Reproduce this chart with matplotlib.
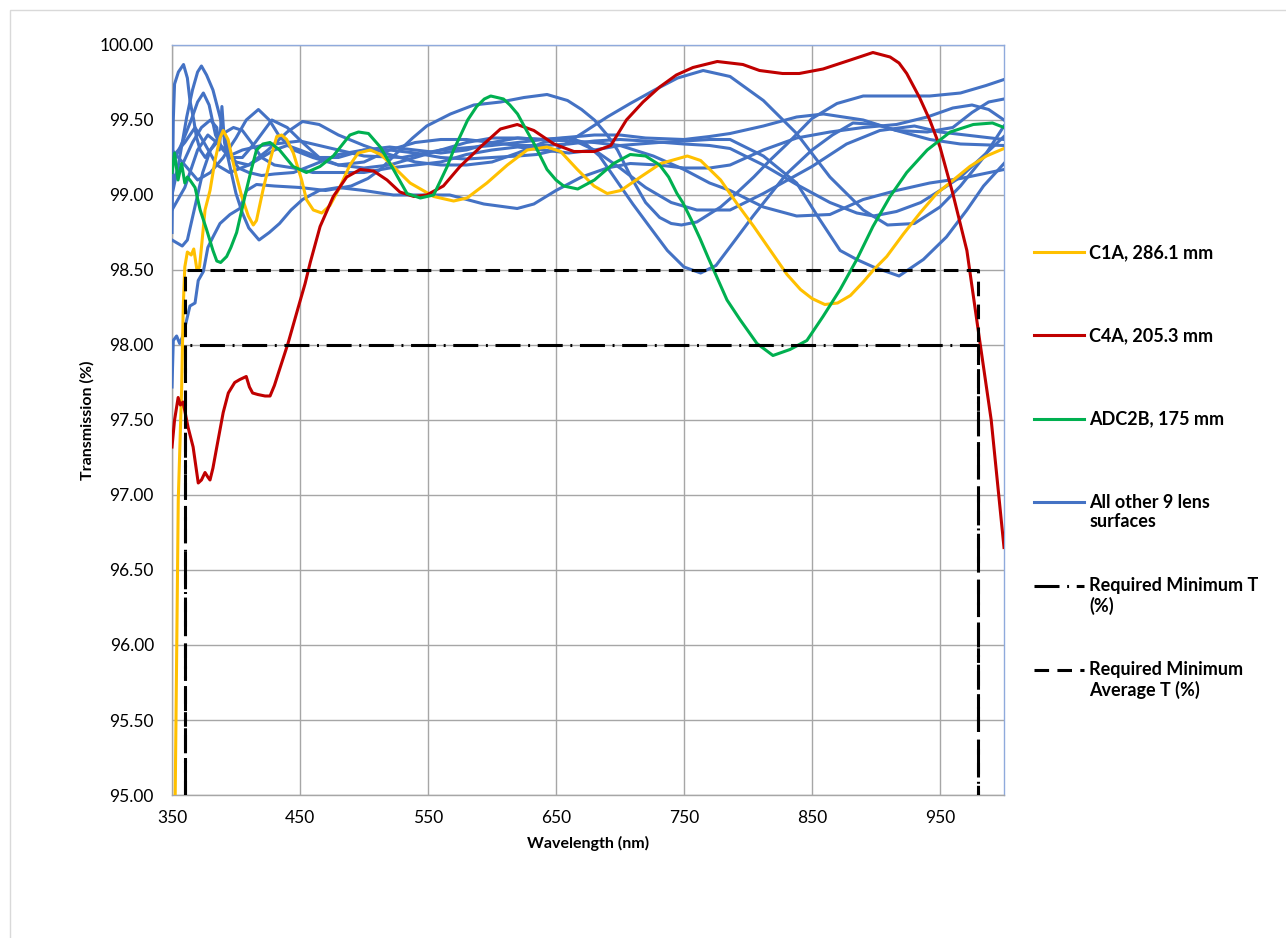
import matplotlib
matplotlib.use('Agg')
import matplotlib.pyplot as plt
from matplotlib.legend_handler import HandlerLine2D
from matplotlib.patches import Rectangle
import numpy as np

plt.rcParams['font.family'] = ['Lato', 'DejaVu Sans']
plt.rcParams['lines.scale_dashes'] = False

# ---------------- data ----------------
c1a_wl = [352.5, 354.9, 357.5, 358.8, 360, 362, 365, 367, 369.5, 371.5, 373, 375.8, 379.7, 383.6, 387.5, 390,
          393.8, 399, 404.5, 409.6, 413.5, 416, 421, 426.6, 431.8, 435.7, 439.6, 444.8, 451.3, 455, 460.4, 467,
          473.4, 481, 489, 495.5, 505, 513, 520.5, 536, 554.4, 570, 580.5, 596, 612, 627.5, 643, 653.6, 666.7,
          679.7, 690, 700.6, 716, 731.8, 752.6, 763, 778.6, 791.6, 804.5, 817.5, 830.5, 841, 850, 860, 870, 880,
          890, 898, 908.4, 921.4, 934.4, 947.4, 960.4, 973.3, 986.3, 1000]
c1a_t = [95.0, 96.97, 97.7, 98.26, 98.52, 98.62, 98.6, 98.64, 98.5, 98.52, 98.65, 98.9, 99.03, 99.23, 99.38, 99.43,
         99.37, 99.17, 98.99, 98.86, 98.8, 98.83, 99.03, 99.23, 99.39, 99.4, 99.37, 99.28, 99.1, 98.97, 98.9, 98.88,
         98.93, 99.05, 99.2, 99.28, 99.3, 99.27, 99.21, 99.08, 98.99, 98.96, 98.98, 99.08, 99.2, 99.3, 99.32, 99.29,
         99.17, 99.06, 99.01, 99.03, 99.12, 99.21, 99.26, 99.23, 99.1, 98.94, 98.79, 98.63, 98.47, 98.37, 98.31,
         98.27, 98.28, 98.33, 98.42, 98.5, 98.59, 98.74, 98.88, 99.01, 99.1, 99.19, 99.26, 99.31]

c4a_wl = [350, 352, 354.8, 356.5, 358.6, 362.6, 366.5, 368.5, 370.5, 373, 375.8, 378, 379.7, 382, 385, 390, 394, 399,
          403, 408, 410.5, 413, 417, 422.7, 426.6, 430, 433, 440.6, 448.6, 454, 458, 465.7, 476, 486.5, 497, 507.5,
          518, 528, 539, 549, 562, 575, 591, 606.6, 619.7, 632.7, 648.4, 664, 680, 692.8, 705, 718, 731, 744, 757,
          776, 796, 809, 827, 840, 858.6, 880, 897.6, 911, 918, 924, 934, 942, 950, 960, 971, 981, 990, 1000]
c4a_t = [97.32, 97.5, 97.65, 97.6, 97.62, 97.45, 97.32, 97.2, 97.08, 97.1, 97.15, 97.12, 97.1, 97.18, 97.32, 97.55,
         97.68, 97.75, 97.77, 97.79, 97.72, 97.68, 97.67, 97.66, 97.66, 97.73, 97.81, 98.01, 98.25, 98.41, 98.55,
         98.79, 98.99, 99.12, 99.17, 99.16, 99.1, 99.02, 98.99, 99.0, 99.06, 99.19, 99.32, 99.44, 99.47, 99.43,
         99.34, 99.29, 99.29, 99.33, 99.5, 99.62, 99.72, 99.8, 99.85, 99.89, 99.87, 99.83, 99.81, 99.81, 99.84,
         99.9, 99.95, 99.92, 99.88, 99.81, 99.65, 99.5, 99.32, 99.01, 98.63, 98.03, 97.5, 96.65]

adc2b_wl = [350, 352, 354.7, 357.5, 360, 362, 364, 368, 372, 377, 382, 385, 388, 392.7, 396, 400.5, 404, 408, 412,
            416, 421, 426.6, 434, 444.6, 455, 465.6, 476, 489, 495.7, 503.5, 512.7, 523, 533.6, 544, 554.4, 560, 565,
            570, 575, 581, 588, 594, 599, 609, 614, 620, 627, 633, 643, 650, 656, 667, 680, 695, 708, 720, 731, 738,
            744.5, 749, 756, 762.5, 769, 775.8, 783.6, 793.7, 807, 819.5, 832.8, 846, 858.6, 872, 885, 897.6, 911,
            924, 940, 958, 976, 991, 1000]
adc2b_t = [99.15, 99.28, 99.1, 99.21, 99.08, 99.12, 99.1, 99.05, 98.9, 98.77, 98.63, 98.56, 98.55, 98.59, 98.65,
           98.75, 98.88, 99.03, 99.17, 99.3, 99.34, 99.35, 99.3, 99.19, 99.15, 99.19, 99.26, 99.4, 99.42, 99.41,
           99.32, 99.17, 99.01, 98.98, 99.0, 99.1, 99.19, 99.3, 99.39, 99.5, 99.59, 99.64, 99.66, 99.64, 99.6, 99.54,
           99.43, 99.34, 99.17, 99.1, 99.06, 99.04, 99.1, 99.21, 99.27, 99.26, 99.2, 99.12, 99.01, 98.95, 98.83,
           98.71, 98.58, 98.45, 98.3, 98.17, 98.01, 97.93, 97.97, 98.03, 98.19, 98.37, 98.57, 98.79, 98.99, 99.15,
           99.3, 99.42, 99.47, 99.48, 99.45]

blue1_wl = [350, 351, 352, 355, 359, 362, 364, 367, 369, 372, 376, 380, 385, 392, 400, 410, 420, 430, 440, 450, 465,
            480, 500, 520, 540, 560, 580, 600, 620, 640, 660, 672, 684, 697, 710, 723, 737, 750, 763, 775, 790, 804,
            817, 830, 850, 866, 882, 900, 916, 940, 960, 975, 988, 1000]
blue1_t = [98.75, 99.5, 99.74, 99.82, 99.87, 99.78, 99.63, 99.5, 99.39, 99.3, 99.25, 99.3, 99.35, 99.3, 99.22, 99.2,
           99.25, 99.3, 99.33, 99.3, 99.25, 99.25, 99.3, 99.32, 99.3, 99.28, 99.3, 99.35, 99.38, 99.37, 99.38, 99.35,
           99.26, 99.1, 98.94, 98.79, 98.63, 98.52, 98.48, 98.53, 98.7, 98.86, 99.0, 99.14, 99.3, 99.4, 99.48, 99.47,
           99.43, 99.42, 99.45, 99.55, 99.62, 99.64]

blue2_wl = [350, 351, 353.6, 356, 358, 361, 364, 368, 370.5, 374.5, 378, 382, 387.5, 395.3, 403, 408.3, 416, 430,
            450, 470, 490, 503, 512.7, 528, 538, 549, 567.5, 585.8, 606.7, 625, 643, 659, 670, 680, 690, 698, 708.6,
            720, 731, 740, 748, 760, 778.6, 792, 804.5, 817, 830.5, 850, 869.5, 890, 942, 966, 986, 1000]
blue2_t = [97.72, 98.03, 98.06, 98.01, 98.05, 98.15, 98.26, 98.28, 98.43, 98.49, 98.65, 98.72, 98.81, 98.87, 98.91,
           99.03, 99.07, 99.06, 99.05, 99.03, 99.06, 99.11, 99.17, 99.3, 99.38, 99.46, 99.54, 99.6, 99.62, 99.65,
           99.67, 99.63, 99.57, 99.5, 99.4, 99.3, 99.12, 98.95, 98.85, 98.81, 98.8, 98.82, 98.92, 99.02, 99.12, 99.23,
           99.34, 99.51, 99.61, 99.66, 99.66, 99.68, 99.73, 99.77]

blue3_wl = [350, 355, 361.5, 366, 370, 373, 377, 382, 387.5, 391, 396, 402, 410, 420, 430, 445, 460, 480, 500, 520,
            540, 560, 580, 600, 620, 635, 650, 672, 690, 708, 727, 745, 765, 786, 812, 838, 864, 890, 909, 930, 950,
            966, 984, 1000]
blue3_t = [99.0, 99.2, 99.52, 99.7, 99.82, 99.86, 99.8, 99.7, 99.52, 99.39, 99.25, 99.18, 99.15, 99.13, 99.14, 99.15,
           99.2, 99.27, 99.3, 99.3, 99.28, 99.25, 99.24, 99.25, 99.26, 99.27, 99.3, 99.42, 99.52, 99.61, 99.7, 99.78,
           99.83, 99.79, 99.63, 99.41, 99.12, 98.9, 98.8, 98.81, 98.92, 99.06, 99.25, 99.46]

blue4_wl = [350, 354, 358, 362, 366, 370, 374, 380, 386, 392, 398, 405, 412, 420, 430, 445, 460, 480, 500, 520, 540,
            560, 580, 600, 620, 640, 660, 680, 700, 730, 750, 770, 786, 812, 838, 855, 872, 885, 898, 918, 937, 955,
            971, 984, 1000]
blue4_t = [98.7, 98.68, 98.66, 98.7, 98.85, 99.0, 99.15, 99.3, 99.38, 99.42, 99.45, 99.43, 99.35, 99.25, 99.2, 99.18,
           99.15, 99.15, 99.15, 99.18, 99.2, 99.22, 99.27, 99.3, 99.32, 99.3, 99.28, 99.3, 99.33, 99.35, 99.36, 99.37,
           99.37, 99.26, 99.08, 98.85, 98.63, 98.57, 98.52, 98.46, 98.57, 98.72, 98.9, 99.06, 99.21]

blue5_wl = [350, 358, 365, 370, 374.5, 379, 384, 390, 397, 405, 420, 450, 480, 500, 530, 560, 600, 640, 680, 700,
            720, 750, 770, 786, 812, 838, 859, 890, 916, 942, 966, 1000]
blue5_t = [99.2, 99.35, 99.5, 99.62, 99.68, 99.6, 99.4, 99.3, 99.27, 99.3, 99.33, 99.36, 99.3, 99.26, 99.25, 99.3,
           99.33, 99.37, 99.4, 99.4, 99.38, 99.37, 99.39, 99.41, 99.46, 99.52, 99.54, 99.5, 99.43, 99.37, 99.34, 99.33]

blue6_wl = [350, 360, 370, 380, 390, 400, 408, 417.5, 426, 434, 445, 460, 480, 500, 520, 540, 560, 580, 600, 620,
            640, 660, 680, 700, 726, 750, 770, 786, 812, 838, 864, 890, 916, 942, 966, 1000]
blue6_t = [99.3, 99.2, 99.1, 99.15, 99.25, 99.38, 99.5, 99.57, 99.5, 99.39, 99.3, 99.25, 99.2, 99.18, 99.2, 99.25,
           99.3, 99.35, 99.38, 99.38, 99.37, 99.36, 99.35, 99.33, 99.26, 99.17, 99.08, 99.03, 98.92, 98.86, 98.87,
           98.97, 99.03, 99.08, 99.11, 99.17]

blue7_wl = [350, 360, 370, 378, 385, 395, 405, 415, 428, 440, 452, 465, 480, 500, 520, 540, 560, 580, 600, 620, 640,
            660, 680, 700, 720, 750, 770, 786, 812, 838, 864, 885, 898, 916, 935, 950, 966, 985, 1000]
blue7_t = [98.9, 99.05, 99.3, 99.4, 99.35, 99.25, 99.25, 99.35, 99.5, 99.45, 99.35, 99.25, 99.2, 99.22, 99.3, 99.35,
           99.37, 99.37, 99.35, 99.33, 99.33, 99.34, 99.36, 99.37, 99.36, 99.34, 99.33, 99.31, 99.2, 99.07, 98.95,
           98.88, 98.86, 98.89, 98.95, 99.03, 99.12, 99.27, 99.39]

blue8_wl = [350, 360, 368, 375, 385, 395, 410, 425, 440, 452, 465, 480, 500, 520, 540, 560, 580, 600, 620, 640, 660,
            680, 700, 720, 740, 760, 786, 812, 850, 877, 903, 930, 950, 970, 1000]
blue8_t = [99.25, 99.35, 99.45, 99.35, 99.2, 99.15, 99.2, 99.3, 99.42, 99.49, 99.47, 99.4, 99.33, 99.27, 99.22,
           99.2, 99.2, 99.22, 99.28, 99.35, 99.38, 99.3, 99.18, 99.05, 98.95, 98.9, 98.9, 99.01, 99.19, 99.34, 99.43,
           99.46, 99.42, 99.4, 99.37]

blue9_wl = [350, 358, 366, 373, 380, 385, 387, 389, 391, 395, 400, 405, 410, 418, 426, 434, 443, 452, 465, 480, 500,
            523, 545, 567, 593.6, 619.7, 632.7, 650, 670, 690, 708, 730, 750, 770, 786, 812, 838, 864, 890, 916, 940,
            960, 975, 988, 1000]
blue9_t = [99.1, 99.2, 99.35, 99.45, 99.5, 99.45, 99.3, 99.59, 99.35, 99.2, 99.01, 98.88, 98.78, 98.7, 98.75, 98.81,
           98.9, 98.97, 99.03, 99.05, 99.03, 99.0, 99.0, 99.0, 98.94, 98.91, 98.94, 99.03, 99.12, 99.18, 99.21, 99.2,
           99.18, 99.18, 99.2, 99.3, 99.38, 99.42, 99.45, 99.47, 99.52, 99.58, 99.6, 99.57, 99.5]

req_min_wl = [360, 360, 980, 980]
req_min_t = [95.0, 98.0, 98.0, 95.0]
req_avg_wl = [360, 360, 980, 980]
req_avg_t = [95.0, 98.5, 98.5, 95.0]

x_ticks = [350, 450, 550, 650, 750, 850, 950]
y_ticks = [95.0, 95.5, 96.0, 96.5, 97.0, 97.5, 98.0, 98.5, 99.0, 99.5, 100.0]

labels = ['C1A, 286.1 mm', 'C4A, 205.3 mm', 'ADC2B, 175 mm', 'All other 9 lens\nsurfaces',
          'Required Minimum T\n(%)', 'Required Minimum\nAverage T (%)']

# ---------------- figure ----------------
W, H = 1286, 938
fig = plt.figure(figsize=(W / 100, H / 100), dpi=100)
fig.patch.set_facecolor('white')
fig.add_artist(Rectangle((10 / W, -0.1), 1.2, 1.1 - 10 / H, transform=fig.transFigure,
                         fill=False, edgecolor='#D9D9D9', linewidth=1.0))

ax = fig.add_axes([172 / W, 1 - 795 / H, (1004 - 172) / W, (795 - 45) / H])

LW = 2.2
BLUE = '#4472C4'
blue_series = [(blue1_wl, blue1_t), (blue2_wl, blue2_t), (blue3_wl, blue3_t), (blue4_wl, blue4_t),
               (blue5_wl, blue5_t), (blue6_wl, blue6_t), (blue7_wl, blue7_t), (blue8_wl, blue8_t),
               (blue9_wl, blue9_t)]
blue_lines = []
for bw, bt in blue_series:
    ln, = ax.plot(bw, bt, color=BLUE, lw=LW, solid_joinstyle='round', zorder=3)
    blue_lines.append(ln)

l_c1a, = ax.plot(c1a_wl, c1a_t, color='#FFC000', lw=LW, solid_joinstyle='round', zorder=4)
l_c4a, = ax.plot(c4a_wl, c4a_t, color='#C00000', lw=LW, solid_joinstyle='round', zorder=4)
l_adc, = ax.plot(adc2b_wl, adc2b_t, color='#00B050', lw=LW, solid_joinstyle='round', zorder=5)

dashdot = (0, (18, 5.5, 1.4, 5.5))
dashed = (0, (10.5, 6.0))
l_min, = ax.plot(req_min_wl, req_min_t, color='black', lw=2.2, linestyle=dashdot, zorder=6)
l_avg, = ax.plot(req_avg_wl, req_avg_t, color='black', lw=2.2, linestyle=dashed, zorder=6)

ax.set_xlim(350, 1000)
ax.set_ylim(95, 100)
ax.set_xticks(x_ticks)
ax.set_yticks(y_ticks)
ax.set_yticklabels([f'{v:.2f}' for v in y_ticks])
ax.set_xticklabels([str(v) for v in x_ticks])
ax.tick_params(axis='both', length=0, labelsize=12.5, colors='#000000')
ax.tick_params(axis='y', pad=13)
ax.tick_params(axis='x', pad=11)
ax.grid(True, color='#A6A6A6', linewidth=1.0, zorder=0)
ax.set_axisbelow(True)
for s in ['left', 'bottom']:
    ax.spines[s].set_color('#A6A6A6')
    ax.spines[s].set_linewidth(1.0)
for s in ['top', 'right']:
    ax.spines[s].set_color('#8FAADC')
    ax.spines[s].set_linewidth(1.0)

ax.set_ylabel('Transmission (%)', fontsize=11.5, fontweight='bold')
ax.set_xlabel('Wavelength (nm)', fontsize=11.5, fontweight='bold')
ax.yaxis.set_label_coords(-0.093, 0.5)
ax.xaxis.set_label_coords(0.5, -0.055)


class UpHandler(HandlerLine2D):
    def __init__(self, shift, **kw):
        super().__init__(**kw)
        self.shift = shift

    def create_artists(self, legend, orig_handle, xdescent, ydescent, width, height, fontsize, trans):
        arts = super().create_artists(legend, orig_handle, xdescent, ydescent, width, height, fontsize, trans)
        for a in arts:
            a.set_ydata(np.asarray(a.get_ydata()) + self.shift)
        return arts


handles = [l_c1a, l_c4a, l_adc, blue_lines[0], l_min, l_avg]
leg_labels = [lab if '\n' in lab else lab + '\n ' for lab in labels]
fs = 13
shift = 0.6 * fs
leg = fig.legend(handles, leg_labels, loc='upper left', bbox_to_anchor=(1034 / W, 1 - 244 / H),
                 frameon=False, fontsize=fs, handlelength=2.75, handletextpad=0.3,
                 labelspacing=2.57, borderaxespad=0, borderpad=0,
                 handler_map={h: UpHandler(shift) for h in handles},
                 prop={'weight': 'bold', 'size': fs})

fig.savefig('out.png', dpi=100, facecolor='white')
